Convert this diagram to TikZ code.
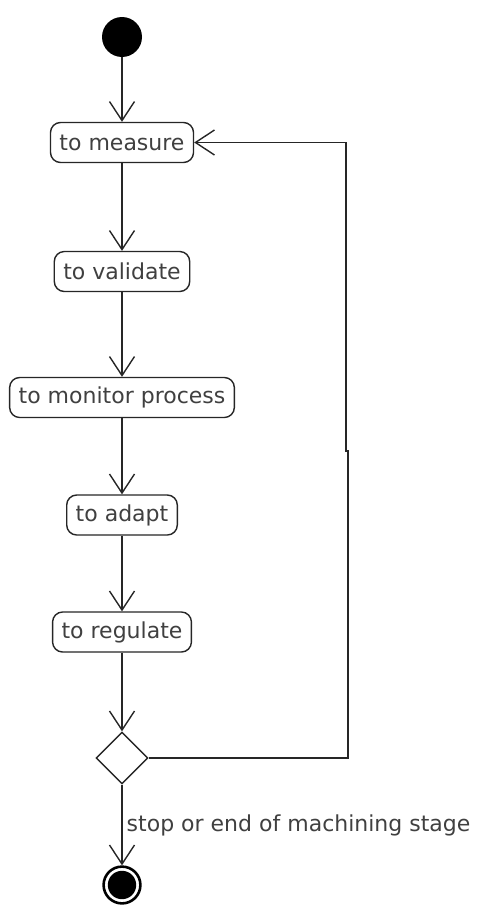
\documentclass[tikz,border=0pt]{standalone}
\usepackage{fontspec}
\setmainfont{DejaVu Sans}
\usepackage{tikz}
\usetikzlibrary{arrows.meta,shapes.geometric}

\begin{document}
\begin{tikzpicture}[x=0.5pt,y=0.5pt,yscale=-1,xscale=1,
  activity/.style={draw=black!85, rounded corners=5pt, line width=0.7pt, fill=white,
    minimum height=20pt, inner xsep=4.5pt, inner ysep=2pt, text=black!75,
    font=\fontsize{11}{13}\selectfont},
  flow/.style={draw=black!85, line width=0.7pt, -{Straight Barb[length=9.5pt,width=12.5pt,line width=0.7pt]}},
  choice/.style={draw=black!85, diamond, aspect=1, line width=0.7pt, fill=white,
    minimum width=26pt, minimum height=26pt, inner sep=0pt}]
\useasboundingbox (0,0) rectangle (479,910);

%Shape: start
\node (start) [circle, fill=black, minimum size=20pt, inner sep=0pt] at (122,37) {};

% Text Node
\node (measure) [activity] at (122,142.5) {to measure};
% Text Node
\node (validate) [activity] at (122,271.5) {to validate};
% Text Node
\node (monitor) [activity] at (122,397.5) {to monitor process};
% Text Node
\node (adapt) [activity] at (122,515) {to adapt};
% Text Node
\node (regulate) [activity] at (122,632) {to regulate};

%Shape: decision
\node (decide) [choice] at (122,758) {};

%Shape: end
\node (stop) [circle, draw=black, line width=1.3pt, minimum size=18.4pt, inner sep=0pt] at (122,885) {};
\fill (stop.center) circle (7.1pt);

%Lines
\draw [flow] (start) -- (measure);
\draw [flow] (measure) -- (validate);
\draw [flow] (validate) -- (monitor);
\draw [flow] (monitor) -- (adapt);
\draw [flow] (adapt) -- (regulate);
\draw [flow] (regulate) -- (decide);
\draw [flow] (decide) -- node [right, inner sep=2pt, text=black!75, font=\fontsize{11}{13}\selectfont] {stop or end of machining stage} (stop);

%Loop back
\coordinate (lowbend) at (348,758);
\coordinate (jogdown) at (348,451);
\coordinate (jogup) at (346,451);
\coordinate (topbend) at (346,142.5);
\draw [flow] (decide.east) -- (lowbend) -- (jogdown) -- (jogup) -- (topbend) -- (measure.east);
\end{tikzpicture}
\end{document}
